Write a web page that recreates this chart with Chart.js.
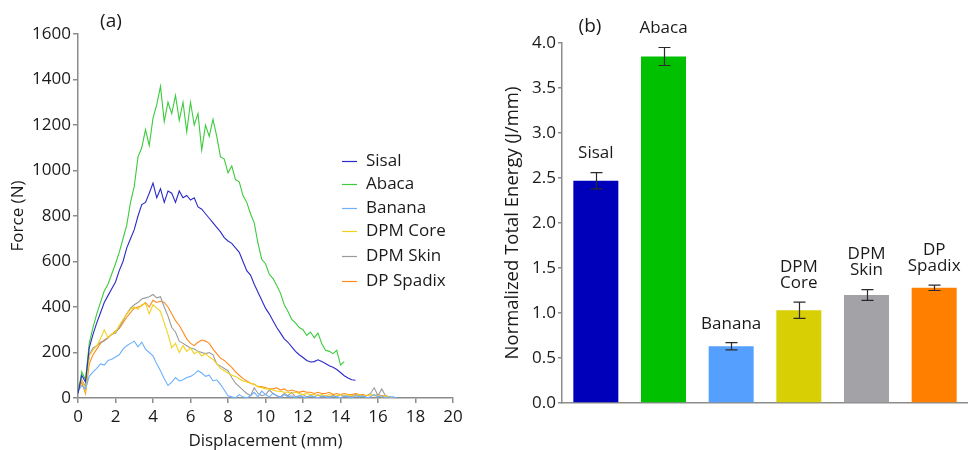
<!DOCTYPE html>
<html><head><meta charset="utf-8">
<script src="https://cdn.jsdelivr.net/npm/chart.js@4.4.1/dist/chart.umd.min.js"></script>
<style>
html,body{margin:0;padding:0;background:#fff;overflow:hidden}
#wrap{position:relative;width:968px;height:450px;background:#fff}
#ca{position:absolute;left:0;top:0}
#cb{position:absolute;left:480px;top:0}
</style></head><body>
<div id="wrap"><canvas id="ca" width="480" height="450"></canvas><canvas id="cb" width="488" height="450"></canvas></div>
<script>
// ---------- Panel (a): Force vs displacement ----------
const displacementMm = [0,0.2,0.4,0.6,0.8,1.0,1.2,1.4,1.6,1.8,2.0,2.2,2.4,2.6,2.8,3.0,3.2,3.4,3.6,3.8,
  4.0,4.2,4.4,4.6,4.8,5.0,5.2,5.4,5.6,5.8,6.0,6.2,6.4,6.6,6.8,7.0,7.2,7.4,7.6,7.8,
  8.0,8.2,8.4,8.6,8.8,9.0,9.2,9.4,9.6,9.8,10.0,10.2,10.4,10.6,10.8,11.0,11.2,11.4,11.6,11.8,
  12.0,12.2,12.4,12.6,12.8,13.0,13.2,13.4,13.6,13.8,14.0,14.2,14.4,14.6,14.8,15.0,15.2,15.4,15.6,15.8,
  16.0,16.2,16.4,16.6,16.8,17.0];

const sisalForce = [20,100,70,220,280,330,375,420,450,480,
  510,560,600,660,700,740,800,850,860,900,
  945,880,920,860,910,900,860,910,880,890,
  870,880,840,830,810,790,770,750,730,705,
  690,680,660,640,600,560,540,500,465,430,
  395,370,340,310,285,260,245,225,205,190,
  178,165,158,160,168,160,152,142,135,125,
  112,98,88,80,78];

const abacaForce = [20,115,80,240,310,370,420,470,500,545,
  590,640,700,760,860,930,1060,1100,1180,1110,
  1230,1290,1370,1215,1300,1250,1330,1220,1300,1170,
  1300,1200,1250,1090,1200,1150,1225,1150,1060,1050,
  990,1020,960,950,890,860,810,770,680,610,
  590,545,525,495,460,410,380,345,330,310,
  300,275,290,265,285,240,210,205,195,210,
  145,160];

const bananaForce = [30,55,40,95,115,130,150,145,165,170,
  180,190,215,230,240,250,225,245,215,200,
  185,150,120,85,55,70,90,75,80,90,
  95,105,120,110,95,100,75,80,60,35,
  10,5,0,15,5,0,10,25,5,30,
  15,5,20,10,0,15,5,10,0,10,
  5,0,10,5,0,10,5,0,10,5,
  0,10,5,0,10,5,10,0,5,15,
  5,10,0,5,5,0];

const dpmCoreForce = [40,80,30,185,210,230,260,300,265,280,
  290,320,345,370,390,400,390,410,415,370,
  410,395,380,330,280,220,240,200,230,205,
  220,195,205,185,195,180,170,150,130,120,
  110,100,95,85,75,70,65,60,50,45,
  40,40,35,30,30,25,25,20,25,20,
  15,20,15,15,10,15,10,15,10,10,
  15,10,15,10,10,15,10,10,15,10,
  10,5,10,5,0];

const dpmSkinForce = [50,80,50,190,220,230,245,250,265,280,
  285,310,340,370,395,410,420,435,440,445,
  455,440,445,400,360,310,290,250,240,230,
  220,215,205,200,195,200,190,150,140,130,
  120,90,65,50,35,20,10,45,20,10,
  15,35,20,10,5,20,10,25,5,10,
  15,5,10,5,15,5,10,5,10,5,
  15,5,10,5,15,10,5,10,20,45,
  10,40,10,5];

const dpSpadixForce = [30,70,20,150,190,215,240,255,265,280,
  295,305,330,355,375,395,400,405,420,400,
  430,420,425,420,400,370,340,320,290,260,
  240,230,245,255,250,240,215,195,175,165,
  150,135,115,100,85,75,65,60,50,50,
  45,40,40,45,35,40,30,35,30,25,
  30,25,25,20,25,20,20,25,15,20,
  15,20,15,15,20,15,15,10,15,10,
  15,10,10,5,0];

const seriesNames = ['Sisal','Abaca','Banana','DPM Core','DPM Skin','DP Spadix'];
const lineColors = ['#2a2ac8','#3ccb3c','#6cb0ff','#f0d21e','#9a9a9a','#ff8a1e'];
const forceSeries = [sisalForce, abacaForce, bananaForce, dpmCoreForce, dpmSkinForce, dpSpadixForce];
const xTickStep = 2, yTickStep = 200;

// ---------- Panel (b): Normalized total energy ----------
const energyCategories = ['Sisal','Abaca','Banana','DPM Core','DPM Skin','DP Spadix'];
const energyLabelLines = [['Sisal'],['Abaca'],['Banana'],['DPM','Core'],['DPM','Skin'],['DP','Spadix']];
const energyMean = [2.47, 3.85, 0.63, 1.03, 1.20, 1.28];
const energyErr  = [0.09, 0.10, 0.04, 0.09, 0.06, 0.03];
const barColors  = ['#0000bb','#00c000','#55a0ff','#d9cf05','#a3a3a7','#ff7f00'];

const FONT = "'Open Sans', sans-serif";
const TXT = '#1a1a1a';
const AXC = '#8c8c8c';
Chart.defaults.font.family = FONT;
Chart.defaults.color = TXT;

const panelA = {
  id: 'panelA',
  afterDraw(chart) {
    const ctx = chart.ctx;
    ctx.save();
    ctx.fillStyle = TXT;
    ctx.font = "19px " + FONT;
    ctx.textAlign = 'center'; ctx.textBaseline = 'middle';
    ctx.fillText('(a)', 111, 22);
    // legend
    const ys = [161, 184, 208, 231, 256, 281];
    ctx.font = "17px " + FONT;
    ctx.textAlign = 'left';
    chart.data.datasets.forEach((ds, i) => {
      ctx.strokeStyle = ds.borderColor; ctx.lineWidth = 1.2;
      ctx.beginPath(); ctx.moveTo(342, ys[i] + 0.5); ctx.lineTo(357, ys[i] + 0.5); ctx.stroke();
      ctx.fillStyle = TXT;
      ctx.fillText(ds.label, 366, ys[i]);
    });
    ctx.restore();
  }
};

new Chart(document.getElementById('ca'), {
  type: 'line',
  data: {
    datasets: seriesNames.map((n, k) => ({
      label: n,
      data: forceSeries[k].map((v, i) => ({x: displacementMm[i], y: v})),
      borderColor: lineColors[k], borderWidth: 1.1, pointRadius: 0, tension: 0, fill: false
    }))
  },
  options: {
    responsive: false, animation: false, devicePixelRatio: 1,
    layout: {padding: {left: 0, right: 27, top: 34, bottom: 0}},
    plugins: {legend: {display: false}, tooltip: {enabled: false}},
    scales: {
      x: {
        type: 'linear', min: 0, max: 20,
        ticks: {stepSize: xTickStep, padding: 4, font: {size: 17}, color: TXT, maxRotation: 0, callback: v => String(v)},
        grid: {drawOnChartArea: false, drawTicks: true, tickLength: 5, color: AXC, lineWidth: 1.5},
        border: {color: AXC, width: 1.5},
        title: {display: true, text: 'Displacement (mm)', font: {size: 17, lineHeight: 1}, padding: {top: 0, bottom: 0}, color: TXT},
        afterFit(s) { s.height = 52; }
      },
      y: {
        type: 'linear', min: 0, max: 1600,
        ticks: {stepSize: yTickStep, padding: 2, font: {size: 17}, color: TXT, callback: v => String(v)},
        grid: {drawOnChartArea: false, drawTicks: true, tickLength: 5, color: AXC, lineWidth: 1.5},
        border: {color: AXC, width: 1.5},
        title: {display: true, text: 'Force (N)', font: {size: 17, lineHeight: 1}, padding: {top: 9.5, bottom: 0}, color: TXT},
        afterFit(s) { s.width = 78; }
      }
    }
  },
  plugins: [panelA]
});

const panelB = {
  id: 'panelB',
  afterDatasetsDraw(chart) {
    const ctx = chart.ctx;
    const ys = chart.scales.y;
    const meta = chart.getDatasetMeta(0);
    ctx.save();
    ctx.strokeStyle = '#2a2a2a'; ctx.lineWidth = 1.2;
    meta.data.forEach((bar, i) => {
      const x = Math.round(bar.x) + 0.5;
      const yt = ys.getPixelForValue(energyMean[i] + energyErr[i]);
      const yb = ys.getPixelForValue(energyMean[i] - energyErr[i]);
      ctx.beginPath();
      ctx.moveTo(x, yt); ctx.lineTo(x, yb);
      ctx.moveTo(x - 6, yt); ctx.lineTo(x + 6, yt);
      ctx.moveTo(x - 6, yb); ctx.lineTo(x + 6, yb);
      ctx.stroke();
      ctx.fillStyle = TXT;
      ctx.font = "17px " + FONT;
      ctx.textAlign = 'center'; ctx.textBaseline = 'middle';
      const lines = energyLabelLines[i];
      lines.forEach((t, j) => {
        const y = yt - 19 - (lines.length - 1 - j) * 16;
        ctx.fillText(t, bar.x, y);
      });
    });
    ctx.font = "19px " + FONT;
    ctx.textAlign = 'center';
    ctx.fillText('(b)', 110, 27);
    ctx.restore();
  }
};

new Chart(document.getElementById('cb'), {
  type: 'bar',
  data: {
    labels: energyCategories,
    datasets: [{data: energyMean, backgroundColor: barColors, borderWidth: 0, categoryPercentage: 1, barPercentage: 0.665}]
  },
  options: {
    responsive: false, animation: false, devicePixelRatio: 1,
    layout: {padding: {left: 0, right: 0, top: 43, bottom: 0}},
    plugins: {legend: {display: false}, tooltip: {enabled: false}},
    scales: {
      x: {
        ticks: {display: false},
        grid: {display: true, drawOnChartArea: false, drawTicks: false, color: AXC},
        border: {color: AXC, width: 1.5},
        afterFit(s) { s.height = 47; }
      },
      y: {
        min: 0, max: 4,
        ticks: {stepSize: 0.5, padding: 2, font: {size: 17}, color: TXT, callback: v => Number(v).toFixed(1)},
        grid: {drawOnChartArea: false, drawTicks: true, tickLength: 4, color: AXC, lineWidth: 1.5},
        border: {color: AXC, width: 1.5},
        title: {display: true, text: 'Normalized Total Energy (J/mm)', font: {size: 18.5, lineHeight: 1}, padding: {top: 23.5, bottom: 0}, color: TXT},
        afterFit(s) { s.width = 82; }
      }
    }
  },
  plugins: [panelB]
});
</script>
</body></html>
